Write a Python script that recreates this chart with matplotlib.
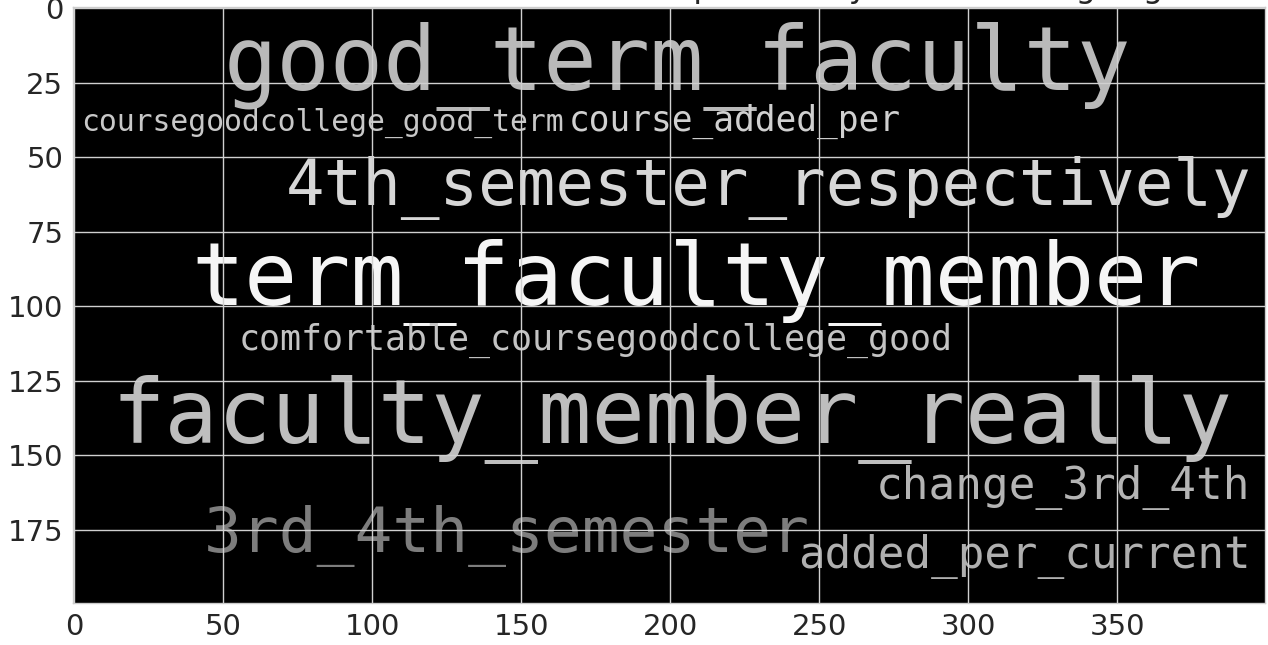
import numpy as np
import matplotlib
matplotlib.use("Agg")
import matplotlib.pyplot as plt

# ---- data (word-cloud image 400 x 200) ----
IMG_W = 400
IMG_H = 200
words = ["good_term_faculty", "coursegoodcollege_good_term", "course_added_per",
         "4th_semester_respectively", "term_faculty_member",
         "comfortable_coursegoodcollege_good", "faculty_member_really",
         "change_3rd_4th", "3rd_4th_semester", "added_per_current"]
word_x = [50.2, 2.2, 166.0, 70.8, 39.3, 55.2, 12.3, 269.0, 43.3, 242.8]
word_y = [27.4, 40.9, 40.9, 66.1, 99.6, 114.5, 145.7, 164.6, 182.3, 187.8]
word_size = [29.8, 10.0, 11.6, 21.5, 29.6, 11.7, 29.8, 14.9, 21.1, 14.8]
word_gray = [185, 200, 208, 215, 245, 195, 190, 180, 125, 175]
title_text = "Word Cloud of Student Comments: Top Terms by Count Among Trigrams"

plt.rcParams.update({
    "font.family": ["DejaVu Sans"],
    "axes.edgecolor": "#cccccc",
    "axes.linewidth": 1.0,
    "grid.color": "#d0d0d0",
    "grid.linewidth": 1.0,
    "xtick.color": "#262626",
    "ytick.color": "#262626",
    "axes.axisbelow": True,
})

DPI = 100
fig = plt.figure(figsize=(12.68, 6.45), dpi=DPI)
ax_left, ax_bottom, ax_w, ax_h = 73 / 1268, 42 / 645, 1192 / 1268, 596 / 645
ax = fig.add_axes([ax_left, ax_bottom, ax_w, ax_h])

ax.imshow(np.zeros((IMG_H, IMG_W)), cmap="gray", vmin=0, vmax=1,
          interpolation="nearest", zorder=0)

px_per_unit = fig.get_size_inches()[0] * DPI * ax_w / IMG_W
for w, x, y, s, g in zip(words, word_x, word_y, word_size, word_gray):
    c = (g / 255.0,) * 3
    ax.text(x, y, w, fontsize=s * px_per_unit * 72 / DPI, color=c,
            family="DejaVu Sans Mono", ha="left", va="baseline",
            zorder=0.2, clip_on=True)

ax.grid(True)
ax.tick_params(axis="both", length=0, labelsize=21, pad=7)
ax.set_title(title_text, fontsize=23, pad=7, color="#262626")

fig.savefig("out.png", dpi=DPI)
